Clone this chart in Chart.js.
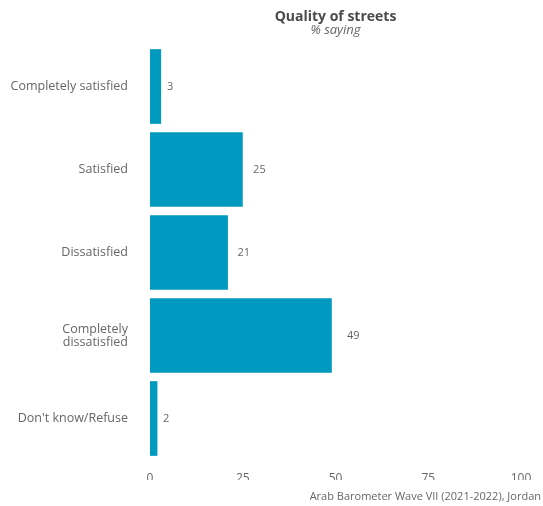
<!DOCTYPE html>
<html>
<head>
<meta charset="utf-8">
<script src="https://cdn.jsdelivr.net/npm/chart.js@4"></script>
<style>
  html, body { margin: 0; padding: 0; background: #fff; }
  #wrap { width: 543px; height: 506px; }
</style>
</head>
<body>
<div id="wrap"><canvas id="chart" width="543" height="506"></canvas></div>
<script>
// data
const categories = ['Completely satisfied', 'Satisfied', 'Dissatisfied', ['Completely', 'dissatisfied'], "Don't know/Refuse"];
const shares = [3, 25, 21, 49, 2];
const xTicks = [0, 25, 50, 75, 100];

const titleText = 'Quality of streets';
const subtitleText = '% saying';
const captionText = 'Arab Barometer Wave VII (2021-2022), Jordan';

const barColor = 'rgb(0, 153, 192)';
const textColor = '#666';
const fontFamily = "'Open Sans', sans-serif";

// title, subtitle, caption and bar value labels
const annotate = {
    id: 'annotate',
    afterDraw(chart) {
        const ctx = chart.ctx;
        const area = chart.chartArea;
        const xScale = chart.scales.x;
        const mid = (area.left + area.right) / 2;
        ctx.save();
        ctx.textBaseline = 'middle';

        ctx.textAlign = 'center';
        ctx.fillStyle = '#4a4a4a';
        ctx.font = 'bold 14px ' + fontFamily;
        ctx.fillText(titleText, mid, 17);
        ctx.fillStyle = '#666';
        ctx.font = 'italic 13px ' + fontFamily;
        ctx.fillText(subtitleText, mid, 30);

        ctx.textAlign = 'right';
        ctx.font = '11px ' + fontFamily;
        ctx.fillText(captionText, 541, 497);

        // value labels beside each bar, nudged a little further out for longer bars
        ctx.textAlign = 'left';
        ctx.font = '11px ' + fontFamily;
        chart.getDatasetMeta(0).data.forEach((bar, i) => {
            const v = shares[i];
            ctx.fillText(String(v), xScale.getPixelForValue(v * 1.055 + 1.42), bar.y);
        });
        ctx.restore();
    }
};

new Chart(document.getElementById('chart'), {
    type: 'bar',
    data: {
        labels: categories,
        datasets: [{
            data: shares,
            backgroundColor: barColor,
            barPercentage: 1,
            categoryPercentage: 0.9
        }]
    },
    options: {
        indexAxis: 'y',
        responsive: false,
        animation: false,
        layout: { padding: { top: 45, right: 22, bottom: 26, left: 0 } },
        plugins: {
            legend: { display: false },
            tooltip: { enabled: false }
        },
        scales: {
            x: {
                min: 0,
                max: 100,
                afterBuildTicks(scale) {
                    scale.ticks = xTicks.map(v => ({ value: v }));
                },
                afterFit(scale) { scale.height = 20; },
                grid: { display: false, drawTicks: false },
                border: { display: false },
                ticks: {
                    color: textColor,
                    padding: 11,
                    font: { family: fontFamily, size: 12 }
                }
            },
            y: {
                afterFit(scale) { scale.width = 150; },
                grid: { display: false, drawTicks: false },
                border: { display: false },
                ticks: {
                    color: textColor,
                    padding: 22,
                    font: { family: fontFamily, size: 12.5, lineHeight: 1.05 }
                }
            }
        }
    },
    plugins: [annotate]
});
</script>
</body>
</html>
